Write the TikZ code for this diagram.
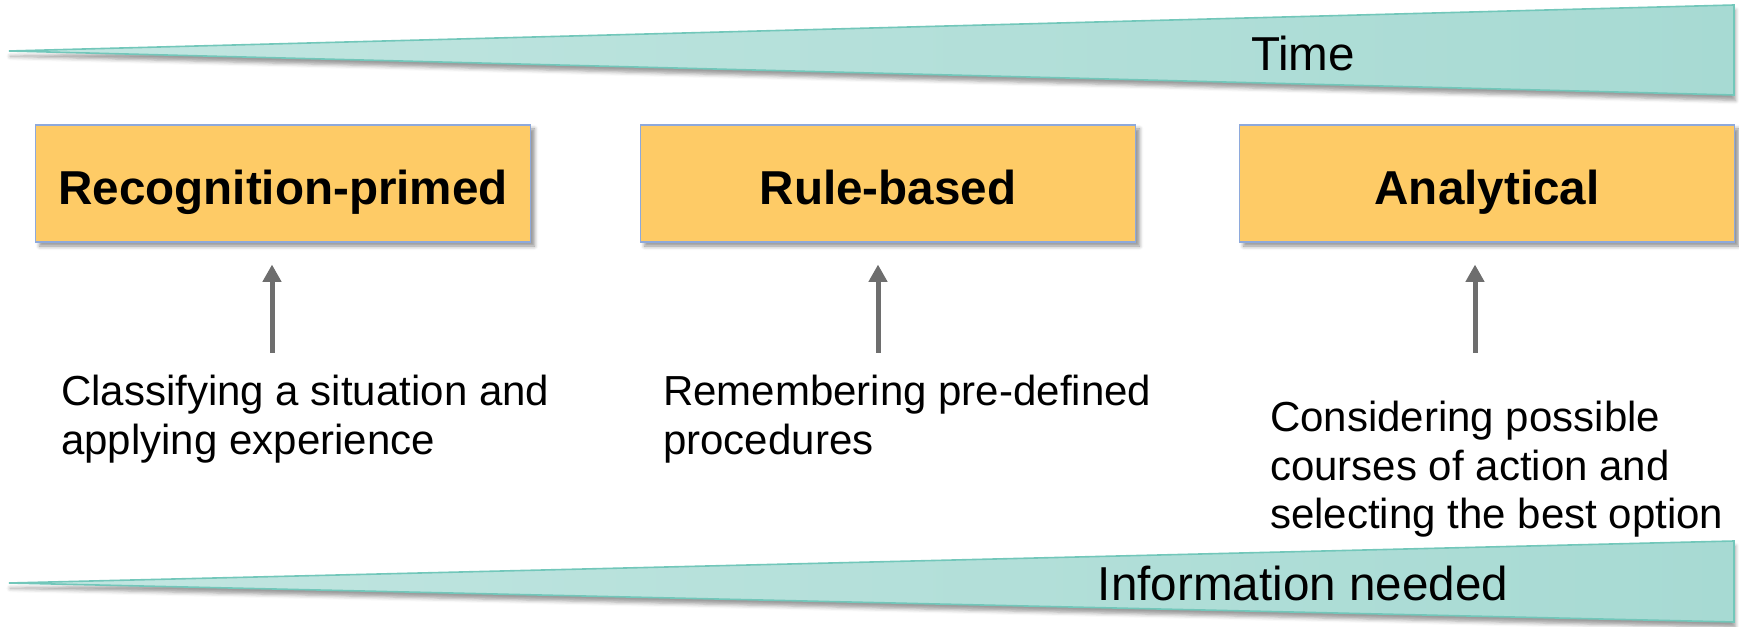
\documentclass[tikz,border=0pt]{standalone}
\usepackage{fontspec}
\setmainfont{Liberation Sans}
\usetikzlibrary{arrows.meta,shadows.blur}
\definecolor{wedgeline}{HTML}{72C7BA}
\definecolor{wedgelight}{HTML}{C2E6E1}
\definecolor{wedgedark}{HTML}{A7DAD3}
\definecolor{stagefill}{HTML}{FECB66}
\definecolor{stageline}{HTML}{8EA9DB}
\definecolor{arrowgray}{HTML}{6E6E6E}
\tikzset{
    wedge/.style={draw=wedgeline,line width=1.2pt,
        left color=wedgelight,right color=wedgedark,
        blur shadow={shadow xshift=1pt,shadow yshift=-4pt,
            shadow blur radius=3pt,shadow opacity=40}},
    wedgetext/.style={font=\fontsize{35.7}{41}\selectfont},
    stage/.style={draw=stageline,line width=0.8pt,fill=stagefill,
        minimum width=371pt,minimum height=87.75pt,inner sep=0pt,
        text height=32.2pt,text depth=0pt,
        font=\fontsize{35.7}{41}\selectfont\bfseries,
        blur shadow={shadow xshift=3pt,shadow yshift=-3pt,
            shadow blur radius=3pt,shadow opacity=45}},
    note/.style={anchor=north west,inner sep=0pt,align=left,
        font=\fontsize{31.5}{36.4}\selectfont},
    up/.style={arrowgray,line width=3.75pt,shorten >=16.5pt,
        -{Triangle[length=13pt,width=13.5pt]}}
}
\begin{document}
\begin{tikzpicture}[x=0.75pt,y=-0.75pt]
        \useasboundingbox (0,0) rectangle (1739,627);
        %% Wedges
        \path[wedge] (9,51) -- (1734,5) -- (1734,95) -- cycle;
        \node[wedgetext] (time) at (1303,53) {Time};
        \path[wedge] (9,583) -- (1734,541) -- (1734,622) -- cycle;
        \node[wedgetext] (info) at (1303,583) {Information needed};
        %% Stages
        \node[stage] (recog) at (283,183.5) {Recognition-primed};
        \node[stage] (rule) at (888,183.5) {Rule-based};
        \node[stage] (anal) at (1487,183.5) {Analytical};
        %% Notes
        \node[note] (n1) at (61,375)
            {Classifying a situation and\\applying experience};
        \node[note] (n2) at (663,375)
            {Remembering pre-defined\\procedures};
        \node[note] (n3) at (1270,401)
            {Considering possible\\courses of action and\\selecting the best option};
        %% Arrows
        \coordinate (t1) at (272,353);
        \coordinate (t2) at (878,353);
        \coordinate (t3) at (1475,353);
        \draw[up] (t1) -- (t1 |- recog.south);
        \draw[up] (t2) -- (t2 |- rule.south);
        \draw[up] (t3) -- (t3 |- anal.south);
\end{tikzpicture}
\end{document}
